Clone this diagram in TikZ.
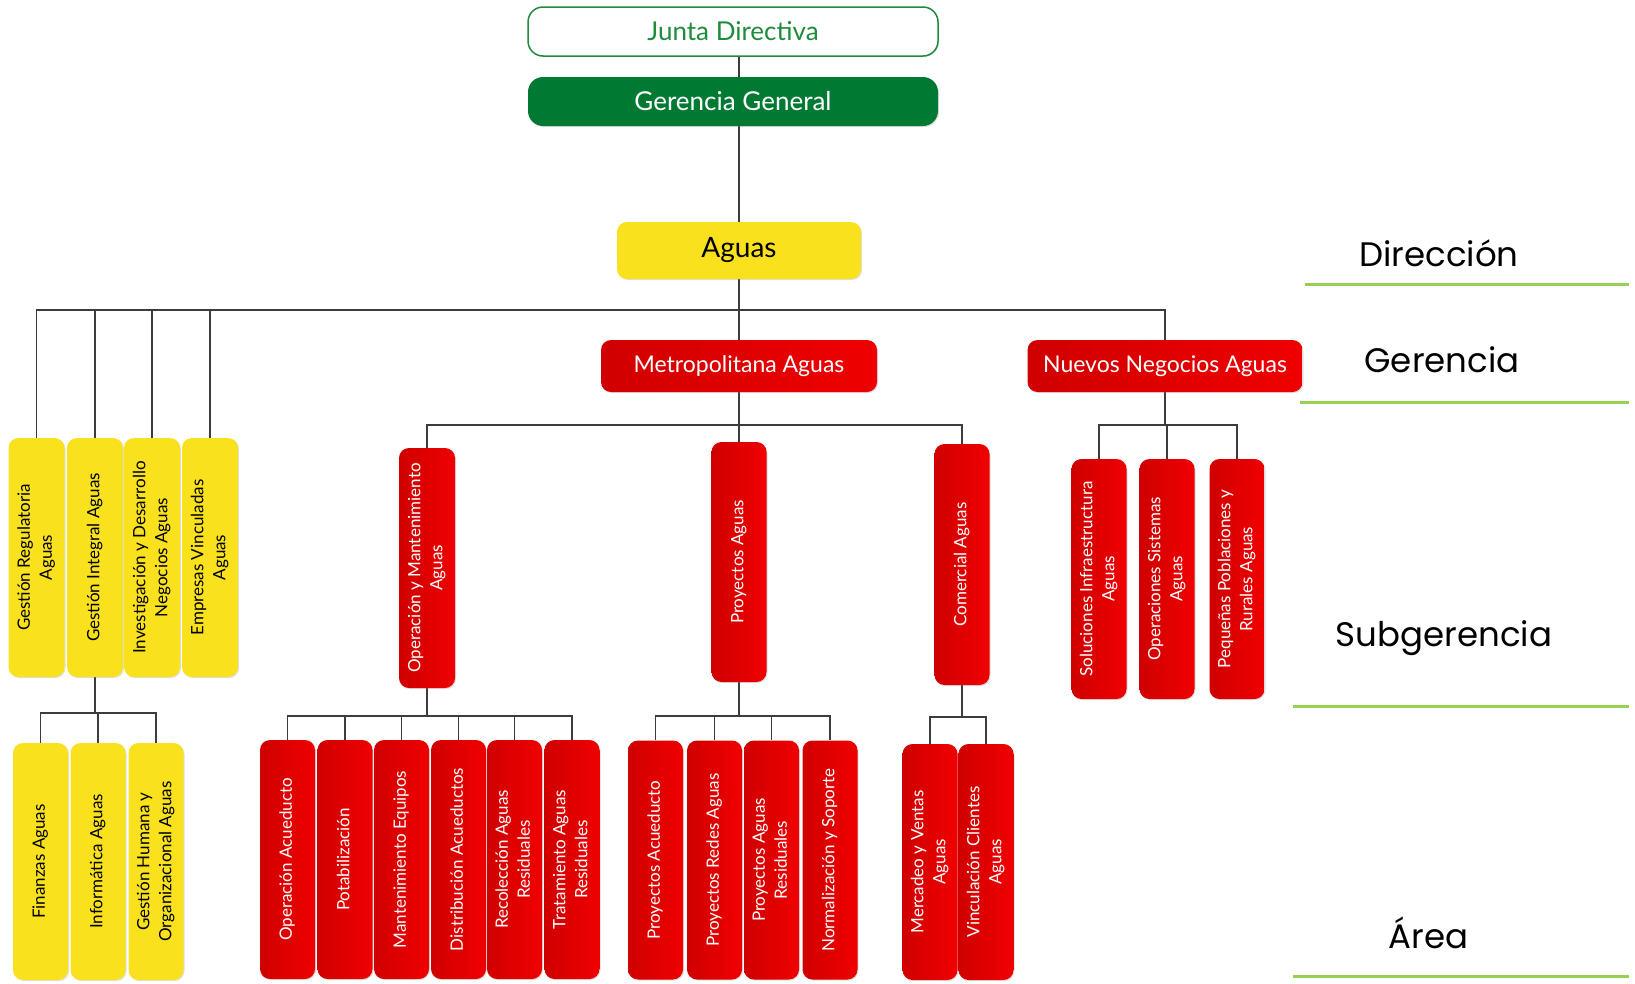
\documentclass[tikz,border=0pt]{standalone}
\usepackage{fontspec}
\setmainfont{Lato}
\newfontfamily\levelfont{Poppins}
\usetikzlibrary{backgrounds,shadows}

\definecolor{dgreen}{RGB}{0,122,51}
\definecolor{jgreen}{RGB}{30,140,60}
\definecolor{yel}{RGB}{250,225,30}
\definecolor{redL}{RGB}{208,0,0}
\definecolor{redR}{RGB}{240,0,0}
\definecolor{lvl}{RGB}{150,210,80}
\definecolor{conncol}{RGB}{60,60,60}

\newcommand{\vt}[1]{\rotatebox{90}{\begin{tabular}{@{}c@{}}#1\end{tabular}}}

\tikzset{
 box/.style={rounded corners=10pt, inner sep=0pt, align=center,
   drop shadow={shadow xshift=1pt, shadow yshift=-1pt, opacity=0.25}},
 redbox/.style={box, left color=redL, right color=redR, text=white},
 yelbox/.style={box, fill=yel, text=black},
 col/.style={minimum width=55pt, minimum height=239pt, font=\fontsize{17}{22}\selectfont},
 conn/.style={draw=conncol, line width=1.8pt},
 lvlline/.style={draw=lvl, line width=3pt},
 lvltext/.style={font=\levelfont\fontsize{34}{40}\selectfont, text=black}
}

\begin{document}
\begin{tikzpicture}[x=1pt,y=-1pt]
\useasboundingbox (0,0) rectangle (1635,983);

% top
\node[box, draw=jgreen, line width=1.5pt, fill=white, text=jgreen, drop shadow={opacity=0},
  minimum width=410pt, minimum height=49pt, rounded corners=15pt,
  font=\fontsize{26}{30}\selectfont] (jd) at (733,31.5) {Junta Directiva};
\node[box, fill=dgreen, text=white, minimum width=410pt, minimum height=49pt, rounded corners=15pt,
  font=\fontsize{26}{30}\selectfont] (gg) at (733,101.5) {Gerencia General};
\node[yelbox, minimum width=244pt, minimum height=57pt, font=\fontsize{28}{32}\selectfont] (ag) at (739,250.5) {Aguas};

% gerencia
\node[redbox, minimum width=276pt, minimum height=52pt, font=\fontsize{23}{27}\selectfont] (met) at (739,366) {Metropolitana Aguas};
\node[redbox, minimum width=275pt, minimum height=52pt, font=\fontsize{23}{27}\selectfont] (nue) at (1165,366) {Nuevos Negocios Aguas};

% yellow subgerencias
\node[yelbox, col, minimum width=56pt] (y1) at (36.5,557.5) {\vt{Gestión Regulatoria\\Aguas}};
\node[yelbox, col, minimum width=56pt] (y2) at (95,557.5) {\vt{Gestión Integral Aguas}};
\node[yelbox, col, minimum width=56pt] (y3) at (152,557.5) {\vt{Investigación y Desarrollo\\Negocios Aguas}};
\node[yelbox, col, minimum width=56pt] (y4) at (210,557.5) {\vt{Empresas Vinculadas\\Aguas}};

% yellow areas
\node[yelbox, col, minimum height=237pt] (a1) at (40.5,861.5) {\vt{Finanzas Aguas}};
\node[yelbox, col, minimum height=237pt] (a2) at (98,861.5) {\vt{Informática Aguas}};
\node[yelbox, col, minimum height=237pt] (a3) at (156,861.5) {\vt{Gestión Humana y\\Organizacional Aguas}};

% red subgerencias
\node[redbox, col, minimum width=56pt, minimum height=240pt] (op) at (427,568) {\vt{Operación y Mantenimiento\\Aguas}};
\node[redbox, col, minimum height=240pt] (pr) at (739,562) {\vt{Proyectos Aguas}};
\node[redbox, col, minimum height=241pt] (co) at (962,564.5) {\vt{Comercial Aguas}};
\node[redbox, col, minimum height=240pt] (n1) at (1099,579) {\vt{Soluciones Infraestructura\\Aguas}};
\node[redbox, col, minimum height=240pt] (n2) at (1167,579) {\vt{Operaciones Sistemas\\Aguas}};
\node[redbox, col, minimum height=240pt] (n3) at (1237,579) {\vt{Pequeñas Poblaciones y\\Rurales Aguas}};

% red areas
\node[redbox, col] (o1) at (287.5,859.5) {\vt{Operación Acueducto}};
\node[redbox, col] (o2) at (345,859.5) {\vt{Potabilización}};
\node[redbox, col] (o3) at (401.5,859.5) {\vt{Mantenimiento Equipos}};
\node[redbox, col] (o4) at (458.5,859.5) {\vt{Distribución Acueductos}};
\node[redbox, col] (o5) at (514.5,859.5) {\vt{Recolección Aguas\\Residuales}};
\node[redbox, col] (o6) at (572,859.5) {\vt{Tratamiento Aguas\\Residuales}};
\node[redbox, col] (p1) at (655.5,860) {\vt{Proyectos Acueducto}};
\node[redbox, col] (p2) at (714.5,860) {\vt{Proyectos Redes Aguas}};
\node[redbox, col] (p3) at (771.5,860) {\vt{Proyectos Aguas\\Residuales}};
\node[redbox, col] (p4) at (830,860) {\vt{Normalización y Soporte}};
\node[redbox, col, minimum height=236pt] (c1) at (930,862) {\vt{Mercadeo y Ventas\\Aguas}};
\node[redbox, col, minimum height=236pt] (c2) at (986,862) {\vt{Vinculación Clientes\\Aguas}};

% level labels
\node[lvltext] (ldir) at (1439,253) {Dirección};
\node[lvltext] (lger) at (1442,360) {Gerencia};
\node[lvltext] (lsub) at (1444,638) {Subgerencia};
\node[lvltext] (lare) at (1428.5,933) {Área};
\draw[lvlline] (1305,284) -- (1629,284);
\draw[lvlline] (1300,402.5) -- (1629,402.5);
\draw[lvlline] (1293,706) -- (1629,706);
\draw[lvlline] (1293,976) -- (1629,976);

% connectors
\begin{scope}[on background layer]
\coordinate (b1) at (739,310);
\coordinate (b2) at (739,425);
\coordinate (b3) at (1165,425);
\coordinate (b4) at (95,713);
\coordinate (b5) at (427,716);
\coordinate (b6) at (739,716);
\coordinate (b7) at (962,717);

\draw[conn] (ag.north) -- (ag.north |- jd.south);
\draw[conn] (ag.south) -- (met.north);
\draw[conn] (y1.north) -- (b1 -| y1.north) -- (b1 -| nue.north) -- (nue.north);
\foreach \c in {y2,y3,y4} {\draw[conn] (b1 -| \c.north) -- (\c.north);}

\draw[conn] (met.south) -- (b2);
\draw[conn] (op.north) -- (b2 -| op.north) -- (b2 -| co.north) -- (co.north);
\draw[conn] (b2 -| pr.north) -- (pr.north);

\draw[conn] (nue.south) -- (b3);
\draw[conn] (n1.north) -- (b3 -| n1.north) -- (b3 -| n3.north) -- (n3.north);
\draw[conn] (b3 -| n2.north) -- (n2.north);

\draw[conn] (y2.south) -- (b4);
\draw[conn] (a1.north) -- (b4 -| a1.north) -- (b4 -| a3.north) -- (a3.north);
\draw[conn] (b4 -| a2.north) -- (a2.north);

\draw[conn] (op.south) -- (b5);
\draw[conn] (o1.north) -- (b5 -| o1.north) -- (b5 -| o6.north) -- (o6.north);
\foreach \c in {o2,o3,o4,o5} {\draw[conn] (b5 -| \c.north) -- (\c.north);}

\draw[conn] (pr.south) -- (b6);
\draw[conn] (p1.north) -- (b6 -| p1.north) -- (b6 -| p4.north) -- (p4.north);
\foreach \c in {p2,p3} {\draw[conn] (b6 -| \c.north) -- (\c.north);}

\draw[conn] (co.south) -- (b7);
\draw[conn] (c1.north) -- (b7 -| c1.north) -- (b7 -| c2.north) -- (c2.north);
\end{scope}
\end{tikzpicture}
\end{document}
